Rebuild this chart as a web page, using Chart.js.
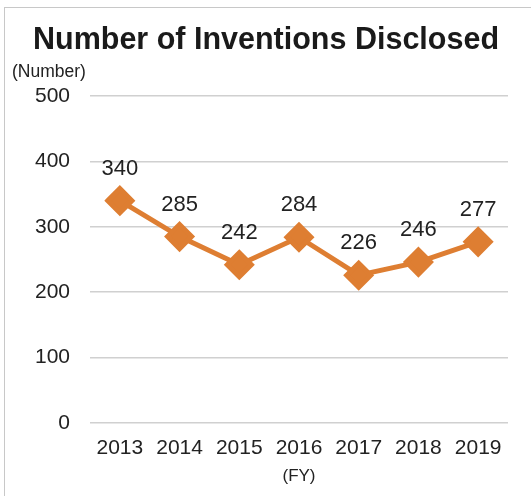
<!DOCTYPE html>
<html>
<head>
<meta charset="utf-8">
<script src="https://cdn.jsdelivr.net/npm/chart.js@4"></script>
<style>
  html, body { margin: 0; padding: 0; background: #fff; }
  #wrap { width: 531px; height: 496px; position: relative; }
</style>
</head>
<body>
<div id="wrap"><canvas id="inventionsChart"></canvas></div>
<script>
const years = ['2013', '2014', '2015', '2016', '2017', '2018', '2019'];
const inventions = [340, 285, 242, 284, 226, 246, 277];
const yTicks = [0, 100, 200, 300, 400, 500];

const FONT = "'Liberation Sans', Arial, sans-serif";

// frame, title, unit label and value labels
const extras = {
    id: 'extras',
    beforeDraw(chart) {
        const c = chart.ctx;
        c.save();
        c.strokeStyle = '#c8c8c8';
        c.lineWidth = 1;
        c.strokeRect(4.5, 7.5, 600, 600);
        c.fillStyle = '#1a1a1a';
        c.font = 'bold 30.5px ' + FONT;
        c.textBaseline = 'middle';
        c.textAlign = 'center';
        c.fillText('Number of Inventions Disclosed', 266, 41);
        c.fillStyle = '#222';
        c.font = '17.5px ' + FONT;
        c.textAlign = 'left';
        c.fillText('(Number)', 12, 72);
        c.restore();
    },
    afterDatasetsDraw(chart) {
        const c = chart.ctx;
        const meta = chart.getDatasetMeta(0);
        c.save();
        c.fillStyle = '#222';
        c.font = '22px ' + FONT;
        c.textAlign = 'center';
        c.textBaseline = 'middle';
        meta.data.forEach((pt, i) => {
            c.fillText(String(inventions[i]), pt.x, pt.y - 32);
        });
        c.restore();
    }
};

new Chart(document.getElementById('inventionsChart'), {
    type: 'line',
    data: {
        labels: years,
        datasets: [{
            data: inventions,
            borderColor: '#de7e32',
            backgroundColor: '#de7e32',
            borderWidth: 5,
            pointStyle: 'rectRot',
            pointRadius: 12,
            pointHoverRadius: 12,
            tension: 0
        }]
    },
    options: {
        responsive: true,
        maintainAspectRatio: false,
        animation: false,
        layout: { padding: { left: 0, right: 23, top: 96, bottom: 9 } },
        plugins: {
            legend: { display: false },
            tooltip: { enabled: false },
            title: { display: false }
        },
        scales: {
            x: {
                offset: true,
                afterFit(scale) { scale.height = 64; },
                grid: { display: false, drawTicks: false },
                border: { display: false },
                ticks: {
                    color: '#222',
                    font: { family: FONT, size: 21 },
                    padding: 13,
                    maxRotation: 0
                },
                title: {
                    display: true,
                    text: '(FY)',
                    color: '#222',
                    font: { family: FONT, size: 17 },
                    padding: { top: 5, bottom: 0 }
                }
            },
            y: {
                min: 0,
                max: 500,
                afterFit(scale) { scale.width = 90; },
                afterBuildTicks(scale) { scale.ticks = yTicks.map(v => ({ value: v })); },
                grid: { color: '#d0d0d0', lineWidth: 1.5, drawTicks: false },
                border: { display: false },
                ticks: {
                    color: '#222',
                    font: { family: FONT, size: 21 },
                    padding: 20
                }
            }
        }
    },
    plugins: [extras]
});
</script>
</body>
</html>
